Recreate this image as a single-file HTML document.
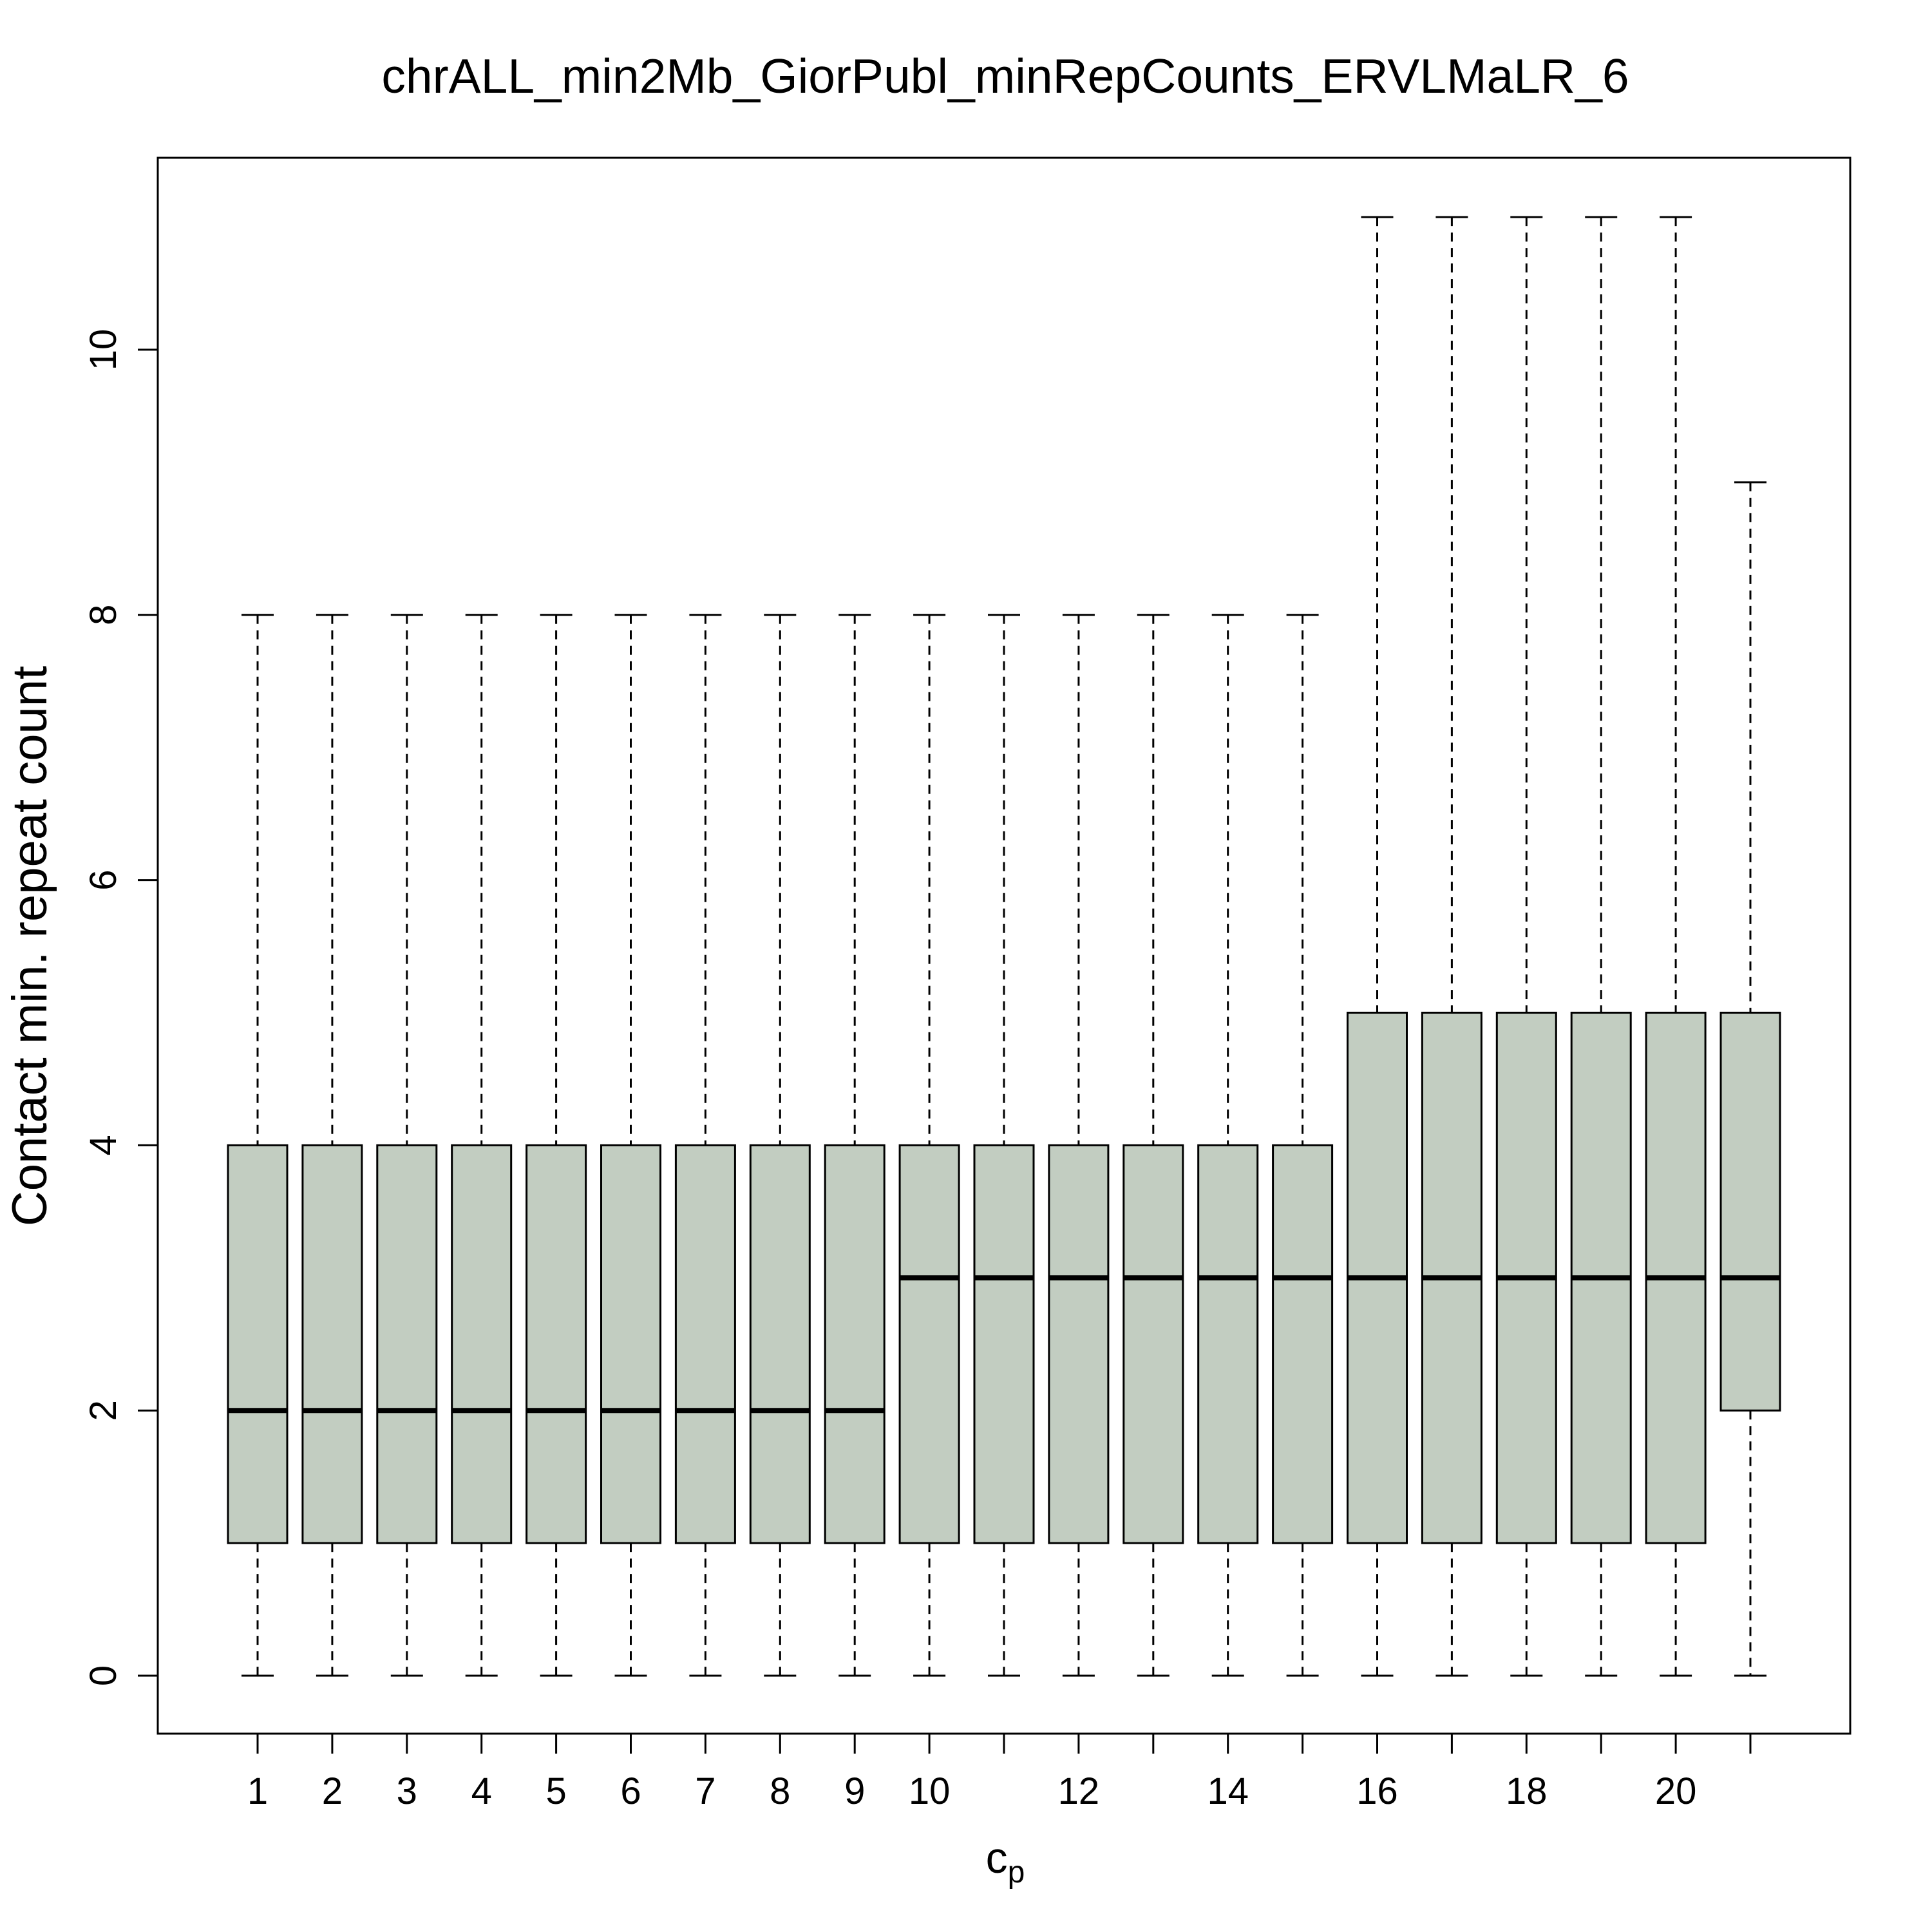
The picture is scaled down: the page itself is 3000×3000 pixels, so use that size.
<!DOCTYPE html>
<html><head><meta charset="utf-8"><style>
html,body{margin:0;padding:0;background:#fff;}
svg{display:block;font-family:"Liberation Sans",Arial,sans-serif;}
</style></head><body>
<svg id="chart" width="3000" height="3000" viewBox="0 0 3000 3000">
<text x="1561" y="144" font-size="75" text-anchor="middle">chrALL_min2Mb_GiorPubl_minRepCounts_ERVLMaLR_6</text>
<rect x="245" y="245" width="2628" height="2447" fill="none" stroke="#000" stroke-width="3"/>
<g id="yaxis"></g>
<g id="xaxis"></g>
<g id="boxes"></g>
<text x="1561" y="2908" font-size="68" text-anchor="middle">c<tspan font-size="48" dy="15">p</tspan></text>
<text transform="translate(72,1469) rotate(-90)" font-size="76" text-anchor="middle">Contact min. repeat count</text>
</svg>
<script>
const categories=[1,2,3,4,5,6,7,8,9,10,11,12,13,14,15,16,17,18,19,20,21];
const lowerWhisker=[0,0,0,0,0,0,0,0,0,0,0,0,0,0,0,0,0,0,0,0,0];
const q1=[1,1,1,1,1,1,1,1,1,1,1,1,1,1,1,1,1,1,1,1,2];
const medians=[2,2,2,2,2,2,2,2,2,3,3,3,3,3,3,3,3,3,3,3,3];
const q3=[4,4,4,4,4,4,4,4,4,4,4,4,4,4,4,5,5,5,5,5,5];
const upperWhisker=[8,8,8,8,8,8,8,8,8,8,8,8,8,8,8,11,11,11,11,11,9];
const yTicks=[0,2,4,6,8,10];
const xTickLabels=["1","2","3","4","5","6","7","8","9","10","","12","","14","","16","","18","","20",""];
const NS="http://www.w3.org/2000/svg";
function X(i){return 400+(i-1)*115.9;}
function Y(v){return 2602-v*205.9;}
function mk(tag,attrs,parent,txt){const e=document.createElementNS(NS,tag);for(const k in attrs)e.setAttribute(k,attrs[k]);if(txt!==undefined)e.textContent=txt;parent.appendChild(e);return e;}
const ya=document.getElementById('yaxis'),xa=document.getElementById('xaxis'),bx=document.getElementById('boxes');
yTicks.forEach(t=>{
  const l=mk('line',{x1:214,x2:245,y1:Y(t),y2:Y(t),stroke:'#000','stroke-width':3},ya);
  
  
  const tx=mk('text',{transform:`translate(180,${Y(t)}) rotate(-90)`,'font-size':58,'text-anchor':'middle'},ya,String(t));
  
  
});
categories.forEach((c,i)=>{
  const x=X(c);
  const l=mk('line',{x1:x,x2:x,y1:2692,y2:2723,stroke:'#000','stroke-width':3},xa);
  
  
  if(xTickLabels[i]){
    const tx=mk('text',{x:x,y:2801,'font-size':58,'text-anchor':'middle'},xa,xTickLabels[i]);
    
    
  }
  const g=mk('g',{},bx);
  
  
  const dash={stroke:'#000','stroke-width':3,'stroke-dasharray':'14,10'};
  mk('line',Object.assign({x1:x,x2:x,y1:Y(upperWhisker[i]),y2:Y(q3[i])},dash),g);
  mk('line',Object.assign({x1:x,x2:x,y1:Y(q1[i]),y2:Y(lowerWhisker[i])},dash),g);
  mk('line',{x1:x-25,x2:x+25,y1:Y(upperWhisker[i]),y2:Y(upperWhisker[i]),stroke:'#000','stroke-width':3},g);
  mk('line',{x1:x-25,x2:x+25,y1:Y(lowerWhisker[i]),y2:Y(lowerWhisker[i]),stroke:'#000','stroke-width':3},g);
  mk('rect',{x:x-46,y:Y(q3[i]),width:92,height:Y(q1[i])-Y(q3[i]),fill:'#c2cdc1',stroke:'#000','stroke-width':3},g);
  mk('line',{x1:x-46,x2:x+46,y1:Y(medians[i]),y2:Y(medians[i]),stroke:'#000','stroke-width':8},g);
});
</script>
</body></html>
